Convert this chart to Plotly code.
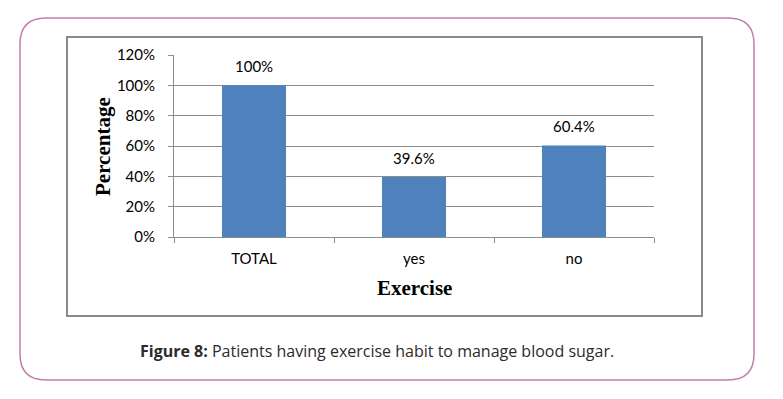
import plotly.graph_objects as go

categories = ["TOTAL", "yes", "no"]
values = [1.00, 0.396, 0.604]
value_labels = ["100%", "39.6%", "60.4%"]
y_ticks = [0, 0.2, 0.4, 0.6, 0.8, 1.0, 1.2]
y_title = "Percentage"
x_title = "Exercise"
caption_bold = "Figure 8:"
caption_text = " Patients having exercise habit to manage blood sugar."

# page body has an 8px default margin; work in screen pixels and offset
OFF = 8
W, H = 783 - OFF, 399 - OFF
PX0, PX1 = 174, 654   # plot area in screen pixels
PY0, PY1 = 55, 237


def px(x):
    return (x - PX0) / (PX1 - PX0)


def py(y):
    return (PY1 - y) / (PY1 - PY0)


def rounded_rect(x0, y0, x1, y1, r):
    pts = [
        f"M {px(x0 + r)},{py(y0)}",
        f"L {px(x1 - r)},{py(y0)}",
        f"Q {px(x1)},{py(y0)} {px(x1)},{py(y0 + r)}",
        f"L {px(x1)},{py(y1 - r)}",
        f"Q {px(x1)},{py(y1)} {px(x1 - r)},{py(y1)}",
        f"L {px(x0 + r)},{py(y1)}",
        f"Q {px(x0)},{py(y1)} {px(x0)},{py(y1 - r)}",
        f"L {px(x0)},{py(y0 + r)}",
        f"Q {px(x0)},{py(y0)} {px(x0 + r)},{py(y0)}",
        "Z",
    ]
    return " ".join(pts)


GRID = "#8c8c8c"
FONT = "Lato, Carlito, Calibri, sans-serif"
SERIF = "Liberation Serif, Times New Roman, serif"

fig = go.Figure()
fig.add_trace(go.Bar(
    x=categories, y=values, width=0.4,
    marker=dict(color="#4f81bd", line=dict(width=0)),
    hoverinfo="skip",
))

annotations = []
for c, v, t in zip(categories, values, value_labels):
    annotations.append(dict(
        x=c, y=v, xref="x", yref="y", text=t, showarrow=False,
        yanchor="bottom", yshift=8,
        font=dict(family=FONT, size=15, color="#000000"),
    ))

annotations.append(dict(
    x=px(103), y=py(147), xref="paper", yref="paper", text=f"<b>{y_title}</b>",
    showarrow=False, textangle=-90, xanchor="center", yanchor="middle",
    font=dict(family=SERIF, size=21, color="#000000"),
))
annotations.append(dict(
    x=px(414), y=py(288), xref="paper", yref="paper", text=f"<b>{x_title}</b>",
    showarrow=False, xanchor="center", yanchor="middle",
    font=dict(family=SERIF, size=21, color="#000000"),
))
annotations.append(dict(
    x=px(377), y=py(351), xref="paper", yref="paper",
    text=f"<b>{caption_bold}</b>{caption_text}",
    showarrow=False, xanchor="center", yanchor="middle",
    font=dict(family="Open Sans, sans-serif", size=16, color="#2b2b2b"),
))

shapes = [
    dict(type="path", xref="paper", yref="paper",
         path=rounded_rect(20, 18, 754, 380, 26),
         line=dict(color="#c27fa9", width=1.5), layer="below"),
    dict(type="rect", xref="paper", yref="paper",
         x0=px(67), x1=px(702), y0=py(37), y1=py(316),
         line=dict(color="#8a8a8a", width=2), layer="below"),
]

fig.update_layout(
    width=W, height=H,
    margin=dict(l=PX0 - OFF, r=W - (PX1 - OFF), t=PY0 - OFF, b=H - (PY1 - OFF), pad=0),
    paper_bgcolor="white", plot_bgcolor="white",
    showlegend=False,
    bargap=0.6,
    annotations=annotations,
    shapes=shapes,
    xaxis=dict(
        type="category", categoryorder="array", categoryarray=categories,
        showline=True, linecolor=GRID, linewidth=1,
        ticks="outside", tickson="boundaries", ticklen=5, tickcolor=GRID,
        showgrid=False, ticklabelstandoff=8,
        tickfont=dict(family=FONT, size=15, color="#000000"),
        fixedrange=True,
    ),
    yaxis=dict(
        range=[0, 1.2], tickvals=y_ticks, tickformat=".0%",
        showline=True, linecolor=GRID, linewidth=1,
        ticks="outside", ticklen=5, tickcolor=GRID,
        showgrid=True, gridcolor=GRID, gridwidth=1,
        zeroline=False, ticklabelstandoff=10,
        tickfont=dict(family=FONT, size=15, color="#000000"),
        fixedrange=True,
    ),
)

fig.write_html("out.html", config={"displayModeBar": False})
